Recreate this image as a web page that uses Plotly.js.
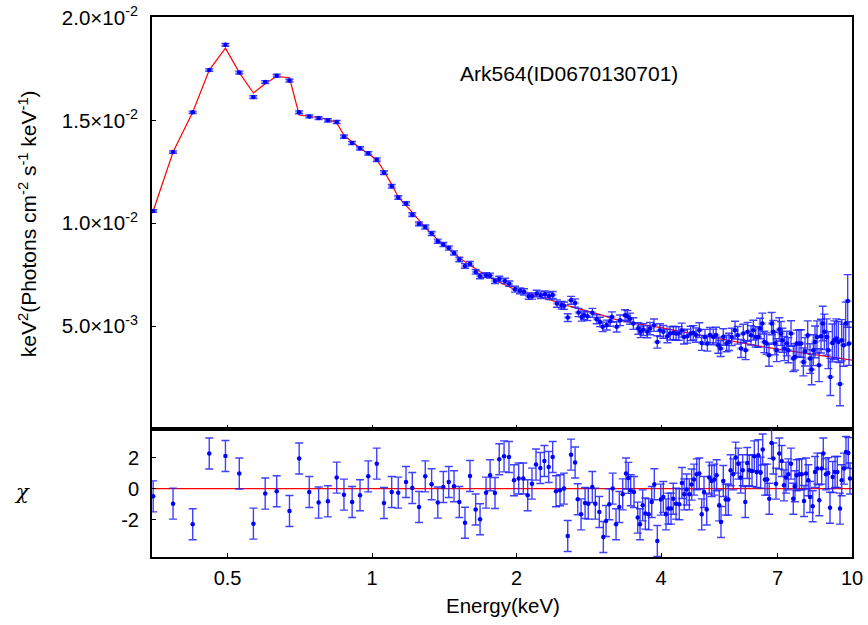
<!DOCTYPE html>
<html>
<head>
<meta charset="utf-8">
<script src="https://cdn.plot.ly/plotly-3.0.1.min.js"></script>
<style>html,body{margin:0;padding:0;background:#fff;}#chart{width:868px;height:625px;}</style>
</head>
<body>
<div id="chart"></div>
<script>
// ---- spectrum data (energy in keV, E^2 F(E)) ----
const dataE = [0.350,0.385,0.423,0.458,0.495,0.529,0.566,0.599,0.633,0.673,0.705,0.740,0.774,0.809,0.844,0.874,0.909,0.944,0.982,1.023,1.059,1.099,1.134,
1.177,1.213,1.253,1.291,1.331,1.371,1.408,1.445,1.482,1.520,1.562,1.600,1.644,1.679,1.728,1.762,1.804,1.841,1.892,1.932,1.985,2.033,2.073,2.121,2.154,2.203,2.247,2.292,2.339,2.379,2.428,2.484,2.512,2.557,2.598,2.649,2.692,2.735,2.765,2.810,2.878,2.938,2.985,3.024,3.083,3.133,3.160,3.234,
3.287,3.367,3.404,3.448,3.503,3.588,3.628,3.675,3.746,3.794,3.868,3.930,3.981,4.045,4.124,4.177,4.245,4.299,4.355,4.418,4.467,4.539,4.612,4.671,4.732,4.808,4.862,4.940,4.996,5.060,5.141,5.208,5.266,5.325,5.393,5.480,
5.543,5.615,5.706,5.778,5.871,5.937,6.004,6.062,6.160,6.229,6.299,6.380,6.431,6.503,6.566,6.640,6.715,6.801,6.856,6.911,6.967,7.056,7.113,7.159,7.228,7.311,7.369,7.464,7.548,7.608,7.670,7.757,7.831,7.919,7.982,8.085,8.177,8.241,8.307,8.374,8.455,8.537,8.618,8.688,8.758,8.857,8.928,9.014,9.101,9.189,9.278,9.366,9.441,9.517,9.608,9.701,9.795,9.858];
const dataF = [0.01060,0.01346,0.01539,0.01744,0.01867,0.01732,0.01613,0.01686,0.01717,0.01693,0.01539,0.01519,0.01511,0.01500,0.01492,0.01421,0.01390,0.01364,0.01340,0.01309,0.01246,0.01180,0.01125,
0.01096,0.01042,0.00997,0.00982,0.00950,0.00913,0.00897,0.00880,0.00856,0.00824,0.00793,0.00804,0.00764,0.00743,0.00748,0.00746,0.00720,0.00730,0.00720,0.00707,0.00680,0.00672,0.00667,0.00646,0.00647,0.00659,0.00651,0.00655,0.00647,0.00652,0.00610,0.00602,0.00600,0.00542,0.00626,0.00613,0.00567,0.00545,0.00553,0.00549,0.00565,0.00534,0.00521,0.00497,0.00506,0.00524,0.00545,0.00497,
0.00529,0.00554,0.00549,0.00537,0.00513,0.00489,0.00473,0.00484,0.00473,0.00489,0.00505,0.00424,0.00481,0.00473,0.00452,0.00465,0.00468,0.00465,0.00465,0.00481,0.00448,0.00452,0.00465,0.00468,0.00457,0.00481,0.00419,0.00448,0.00416,0.00457,0.00448,0.00457,0.00408,0.00392,0.00448,0.00416,
0.00424,0.00448,0.00481,0.00456,0.00392,0.00465,0.00384,0.00473,0.00456,0.00481,0.00448,0.00448,0.00489,0.00513,0.00424,0.00416,0.00359,0.00513,0.00473,0.00416,0.00384,0.00484,0.00465,0.00432,0.00392,0.00416,0.00384,0.00465,0.00343,0.00351,0.00416,0.00416,0.00416,0.00327,0.00376,0.00456,0.00343,0.00290,0.00384,0.00424,0.00448,0.00311,0.00452,0.00513,0.00473,0.00448,0.00384,0.00254,0.00419,0.00432,0.00440,0.00424,0.00219,0.00432,0.00408,0.00513,0.00623,0.00416];
const dataErr = [0.00006,0.00006,0.00006,0.00006,0.00007,0.00007,0.00007,0.00007,0.00007,0.00007,0.00007,0.00007,0.00007,0.00008,0.00008,0.00008,0.00008,0.00008,0.00008,0.00009,0.00009,0.00009,0.00009,
0.00009,0.00009,0.00009,0.0001,0.0001,0.0001,0.0001,0.0001,0.0001,0.00011,0.00011,0.00011,0.00011,0.00012,0.00012,0.00012,0.00012,0.00013,0.00013,0.00013,
0.00014,0.00014,0.00015,0.00015,0.00015,0.00016,0.00016,0.00016,0.00017,0.00017,0.00018,0.00018,
0.00018,0.00019,0.00019,0.0002,0.0002,0.0002,0.00021,0.00021,0.00022,0.00022,0.00023,0.00023,0.00024,0.00024,0.00025,0.00025,
0.00026,0.00026,0.00027,0.00027,0.00028,0.00028,0.00028,0.00029,0.00029,0.0003,0.0003,0.0003,0.00031,0.00031,0.00032,0.00032,0.00032,0.00033,0.00033,0.00034,0.00034,0.00034,0.00035,0.00035,0.00035,0.00036,0.00036,0.00037,0.00037,0.00037,0.00038,0.00038,0.00039,0.00039,0.0004,0.0004,
0.00042,0.00042,0.00043,0.00043,0.00044,0.00045,0.00046,0.00046,0.00047,0.00048,0.00049,0.0005,0.0005,0.00051,0.00052,0.00052,0.00053,0.00054,0.00055,0.00055,
0.00056,0.00057,0.00058,0.00058,0.00059,0.0006,0.00061,0.00062,0.00063,0.00064,0.00065,0.00066,0.00067,0.00068,0.00069,0.0007,0.00072,0.00074,0.00075,0.00077,
0.00078,0.0008,0.00082,0.00084,0.00086,0.00088,0.0009,0.0009,0.00092,0.00094,0.00096,0.00098,0.00105,0.001,0.00102,0.00104,0.00128,0.00106];

// ---- model curve ----
const modelE = [0.350,0.385,0.423,0.458,0.495,0.529,0.566,0.599,0.633,0.673,0.705,0.740,0.774,0.809,0.844,0.874,0.944,1.023,1.059,1.099,1.134,1.2,1.3,1.4,1.5,1.6,1.7,1.8,1.9,2.0,2.3,2.6,3.0,3.2,3.6,4.0,4.5,5.0,5.5,6.0,6.5,7.0,7.5,8.0,9.0,10.0];
const modelF = [0.01060,0.01346,0.01539,0.01744,0.01851,0.01732,0.01633,0.01678,0.01714,0.01707,0.01526,0.01521,0.01514,0.01505,0.01489,0.01427,0.01366,0.01309,0.01254,0.01188,0.01128,0.01065,0.00972,0.00900,0.00843,0.00796,0.00757,0.00725,0.00698,0.00675,0.00635,0.00595,0.00555,0.00535,0.00510,0.00493,0.00470,0.00450,0.00430,0.00415,0.00401,0.00389,0.00378,0.00368,0.00351,0.00335];

// ---- residuals (chi) ----
const resE = [0.350,0.385,0.423,0.458,0.495,0.529,0.566,0.599,0.633,0.673,0.705,0.740,0.774,0.809,0.844,0.874,0.909,0.944,0.982,1.023,1.059,1.099,1.134,1.177,1.213,1.253,1.291,1.331,1.371,1.408,1.445,1.482,1.520,1.562,1.600,1.644,1.679,1.728,1.762,1.804,1.841,1.884,1.929,1.976,2.021,2.066,2.110,2.154,2.196,2.242,2.286,2.334,2.379,2.417,2.464,2.512,2.557,2.598,2.649,2.683,2.726,2.779,2.822,2.877,2.919,2.975,3.033,3.073,3.122,3.173,3.224,3.275,3.329,3.382,3.420,3.459,3.514,3.577,3.617,3.664,3.710,3.771,3.826,3.874,3.930,3.995,4.045,4.097,4.143,4.197,4.243,4.299,4.367,4.423,4.472,4.523,4.581,4.634,4.686,4.747,4.807,4.863,4.917,4.981,5.043,5.101,5.164,5.224,5.290,5.334,5.393,5.456,5.524,5.587,5.657,5.723,5.795,5.862,5.919,5.993,6.051,6.109,6.190,6.258,6.331,6.380,6.452,6.516,6.587,6.658,6.723,6.800,6.855,6.945,7.055,7.137,7.216,7.286,7.367,7.462,7.545,7.607,7.669,7.766,7.855,7.943,8.020,8.110,8.175,8.281,8.373,8.466,8.548,8.647,8.714,8.827,8.925,8.999,9.116,9.218,9.320,9.441,9.518,9.623,9.716,9.824,9.904];
const resChi = [-0.5,-0.97,-2.3,2.26,2.1,0.97,-2.26,-0.32,-0.17,-1.44,1.94,-0.22,-0.9,-0.82,0.71,-0.39,-0.86,-0.43,0.79,1.61,-0.93,-0.22,-0.26,0.43,0.04,-1.19,0.79,0.28,-0.9,0.1,0.43,0.15,-0.86,-2.2,0.81,-1.35,-1.98,-0.26,0.86,-0.28,1.89,2.08,2.04,0.54,0.65,0.65,-0.43,0.32,1.55,1.33,1.78,1.39,2.04,-0.17,-0.11,0,-3.06,2.19,1.68,-0.69,-1.66,-0.93,-0.97,0.1,-0.97,-1.51,-3.12,-2.09,-1.01,0,-2.3,-1.19,-0.37,0.97,0.69,-0.11,-0.22,-1.87,-2.3,-1.08,-1.61,-1.66,-0.86,0.28,-3.38,-0.71,-0.54,-1.66,-1.29,-1.29,-0.65,-0.97,-1.01,0.36,-0.37,-0.06,-0.37,0.26,0.58,0.92,0.97,-1.66,-0.22,-1.35,0.71,0.49,0.58,0.86,-1.08,-2.15,0.49,-0.71,-0.71,1.18,0.92,2.0,1.61,0.71,1.18,-0.86,1.65,1.18,1.14,2.08,1.07,2.15,1.03,2.52,0.58,0.58,-0.65,2.94,1.94,0.32,2.26,1.78,0.21,0.71,0.92,1.61,-0.65,0.15,0.86,0.92,0.92,-0.8,0.97,0.54,-0.54,-1.14,1.07,1.29,-0.75,1.29,2.26,0.92,1.0,-1.23,0.75,1.07,1.07,-1.29,0.54,1.29,2.36,2.3,0.65];
const resErr = 1;
const zeroE = [0.35, 10];
const zeroChi = [0, 0];

// ---- tick labels ----
const xTickVals = [0.5, 1, 2, 4, 7, 10];
const xTickText = ['0.5', '1', '2', '4', '7', '10'];
const yTickVals = [0.005, 0.010, 0.015, 0.020];
const yTickText = ['5.0×10<sup>-3</sup>', '1.0×10<sup>-2</sup>', '1.5×10<sup>-2</sup>', '2.0×10<sup>-2</sup>'];
const rTickVals = [-2, 0, 2];
const rTickText = ['-2', '0', '2'];

const FONT = 'Liberation Sans, Arial, sans-serif';
const blue = '#0000ff';
const barCol = 'rgba(30,30,255,0.85)';

const traces = [
  {x: modelE, y: modelF, type: 'scatter', mode: 'lines', line: {color: '#ff0000', width: 1.2}, xaxis: 'x', yaxis: 'y'},
  {x: dataE, y: dataF, type: 'scatter', mode: 'markers', marker: {color: blue, size: 4.5},
   error_y: {type: 'data', array: dataErr, visible: true, color: barCol, thickness: 1.4, width: 4},
   error_x: {type: 'percent', value: 1.8, visible: true, color: 'rgba(90,90,255,0.55)', thickness: 2.5, width: 0},
   xaxis: 'x', yaxis: 'y'},
  {x: zeroE, y: zeroChi, type: 'scatter', mode: 'lines', line: {color: '#ff0000', width: 1.2}, xaxis: 'x2', yaxis: 'y2'},
  {x: resE, y: resChi, type: 'scatter', mode: 'markers', marker: {color: blue, size: 4.5},
   error_y: {type: 'constant', value: resErr, visible: true, color: barCol, thickness: 1.4, width: 4},
   xaxis: 'x2', yaxis: 'y2'}
];

const axisCommon = {showgrid: false, zeroline: false, showline: true, linecolor: '#000', linewidth: 2, mirror: true,
  ticks: 'inside', ticklen: 4, tickwidth: 1, tickcolor: '#000', tickfont: {family: FONT, size: 20, color: '#000'}};

const layout = {
  width: 868, height: 625,
  margin: {l: 152, r: 16, t: 17, b: 68},
  paper_bgcolor: '#fff', plot_bgcolor: '#fff',
  showlegend: false,
  font: {family: FONT, color: '#000'},
  xaxis: Object.assign({}, axisCommon, {type: 'log', range: [Math.log10(0.348), 1], anchor: 'y', tickvals: xTickVals, ticktext: xTickText, showticklabels: false}),
  xaxis2: Object.assign({}, axisCommon, {type: 'log', range: [Math.log10(0.348), 1], anchor: 'y2', matches: 'x', tickvals: xTickVals, ticktext: xTickText, ticklabelstandoff: 2}),
  yaxis: Object.assign({}, axisCommon, {domain: [0.2378, 1], range: [0.00003, 0.02002], tickvals: yTickVals, ticktext: yTickText, anchor: 'x', ticklabelstandoff: 8, tickfont: {family: FONT, size: 20.5, color: '#000'}}),
  yaxis2: Object.assign({}, axisCommon, {domain: [0, 0.2378], range: [-4.41, 3.87], tickvals: rTickVals, ticktext: rTickText, anchor: 'x2', ticklabelstandoff: 7}),
  annotations: [
    {text: 'Ark564(ID0670130701)', xref: 'paper', yref: 'paper', x: 0.596, y: 0.896, xanchor: 'center', yanchor: 'middle', showarrow: false, font: {family: FONT, size: 21, color: '#000'}},
    {text: 'keV<sup>2</sup>(Photons cm<sup>-2</sup> s<sup>-1</sup> keV<sup>-1</sup>)', xref: 'paper', yref: 'paper', x: -0.178, y: 0.617, xanchor: 'center', yanchor: 'middle', textangle: -90, showarrow: false, font: {family: FONT, size: 21, color: '#000'}},
    {text: '<i>χ</i>', xref: 'paper', yref: 'paper', x: -0.1855, y: 0.121, xanchor: 'center', yanchor: 'middle', showarrow: false, font: {family: 'DejaVu Serif, serif', size: 21, color: '#000'}},
    {text: 'Energy(keV)', xref: 'paper', yref: 'paper', x: 0.501, y: -0.0907, xanchor: 'center', yanchor: 'middle', showarrow: false, font: {family: FONT, size: 20.5, color: '#000'}}
  ]
};

Plotly.newPlot('chart', traces, layout, {staticPlot: true, displayModeBar: false});
</script>
</body>
</html>
